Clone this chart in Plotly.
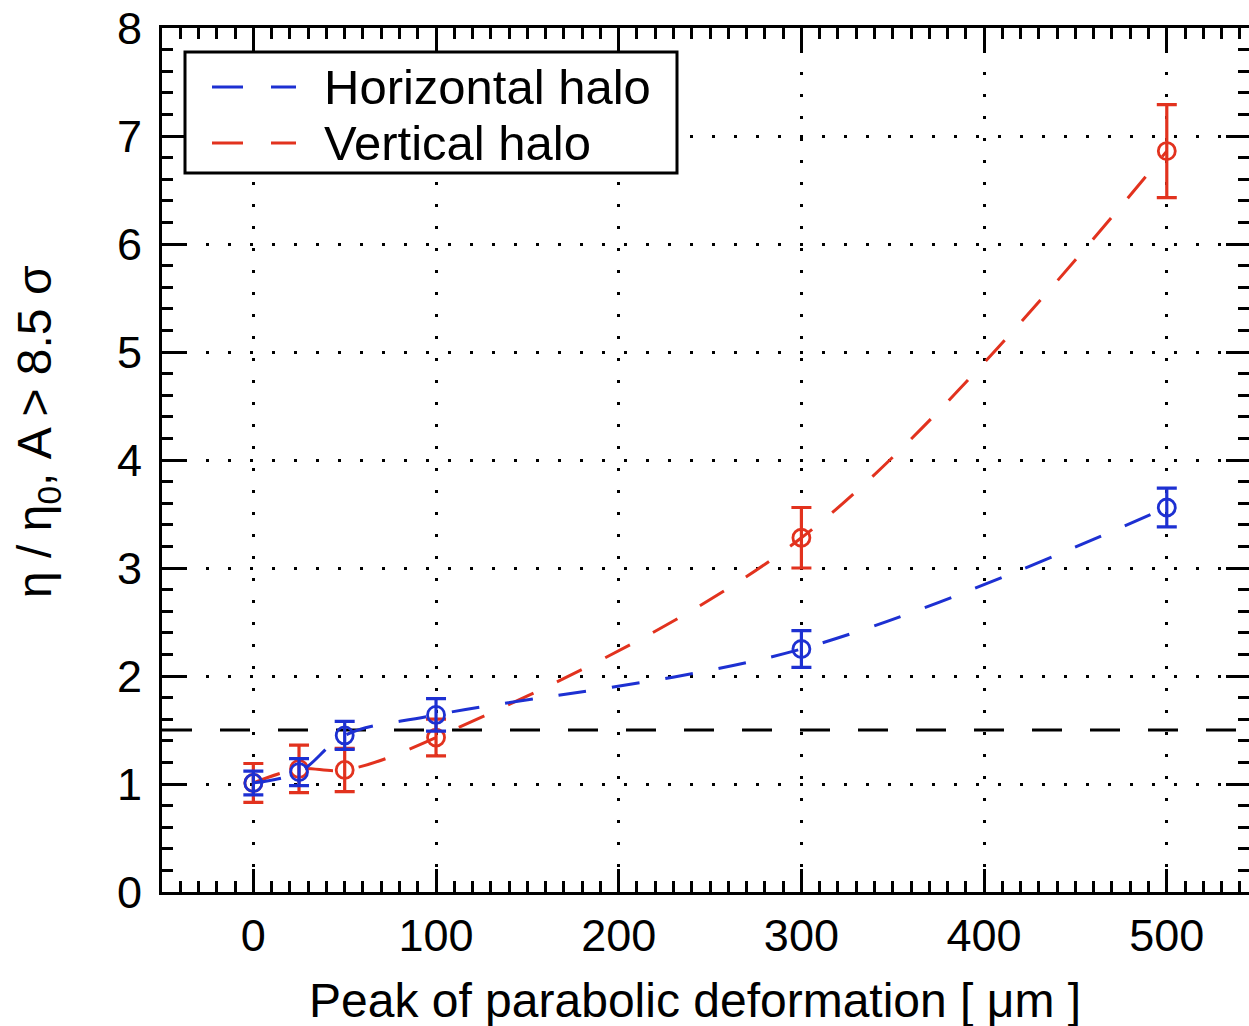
import plotly.graph_objects as go

# Peak of the parabolic deformation [um]
deformation = [0, 25, 50, 100, 300, 500]

# Relative efficiency eta/eta0 for amplitudes above 8.5 sigma
horizontal = [1.01, 1.11, 1.45, 1.64, 2.25, 3.56]
horizontal_err = [0.11, 0.125, 0.13, 0.15, 0.17, 0.18]

vertical = [1.01, 1.14, 1.13, 1.43, 3.28, 6.86]
vertical_err = [0.18, 0.22, 0.20, 0.17, 0.28, 0.43]

threshold = 1.5

x_ticks = [0, 100, 200, 300, 400, 500]
y_ticks = [0, 1, 2, 3, 4, 5, 6, 7, 8]

BLUE = "#1d30d2"
RED = "#e2321e"
FONT = "Liberation Sans, Arial, Helvetica, sans-serif"

W, H = 1249, 1026
ML, MR, MT, MB = 162, 0, 28, 134
PW, PH = W - ML - MR, H - MT - MB


def px(xp):
    return (xp - ML) / PW


def py(yp):
    return (H - MB - yp) / PH


def series(x, y, err, color, name):
    return go.Scatter(
        x=x, y=y, name=name, mode="lines+markers",
        line=dict(color=color, width=3, dash="28px,26px", shape="spline"),
        marker=dict(symbol="circle-open", size=17, color=color,
                    line=dict(width=2.8, color=color)),
        error_y=dict(type="data", array=err, visible=True,
                     color=color, thickness=3.2, width=10),
        showlegend=False,
    )


fig = go.Figure()
fig.add_trace(series(deformation, vertical, vertical_err, RED, "Vertical halo"))
fig.add_trace(series(deformation, horizontal, horizontal_err, BLUE, "Horizontal halo"))
# carrier for the right-hand tick axis
fig.add_trace(go.Scatter(x=[None], y=[None], yaxis="y2", showlegend=False,
                         hoverinfo="skip"))

axis_common = dict(
    showline=True, linewidth=3, linecolor="black",
    ticks="inside", tickwidth=3, ticklen=23, tickcolor="black",
    zeroline=False,
    showgrid=True, gridcolor="black", gridwidth=2.5, griddash="3px,19px",
    tickfont=dict(family=FONT, size=45, color="black"),
)

fig.update_layout(
    width=W, height=H,
    margin=dict(l=ML, r=MR, t=MT, b=MB),
    paper_bgcolor="white", plot_bgcolor="white",
    xaxis=dict(
        range=[-50, 545], tickvals=x_ticks, mirror="ticks",
        minor=dict(dtick=10, tick0=0, ticks="inside", ticklen=11,
                   tickwidth=3, tickcolor="black", showgrid=False),
        ticklabelstandoff=2,
        **axis_common,
    ),
    yaxis=dict(
        range=[0, 8], tickvals=y_ticks, mirror=False,
        minor=dict(dtick=0.2, tick0=0, ticks="inside", ticklen=11,
                   tickwidth=3, tickcolor="black", showgrid=False),
        ticklabelstandoff=8,
        **axis_common,
    ),
    yaxis2=dict(
        range=[0, 8], overlaying="y", side="right", tickvals=y_ticks,
        showline=False, showgrid=False, zeroline=False,
        ticks="inside", tickwidth=3, ticklen=23, tickcolor="black",
        showticklabels=False,
        minor=dict(dtick=0.2, tick0=0, ticks="inside", ticklen=11,
                   tickwidth=3, tickcolor="black", showgrid=False),
    ),
    showlegend=False,
)

# reference level
fig.add_shape(type="line", xref="paper", yref="y", x0=0, x1=1,
              y0=threshold, y1=threshold, layer="below",
              line=dict(color="black", width=3, dash="30px,28px"))

# legend box
fig.add_shape(type="rect", xref="paper", yref="paper",
              x0=px(185), x1=px(677), y0=py(173), y1=py(52),
              line=dict(color="black", width=3), fillcolor="white",
              layer="above")
for row_y, color, label in [(87, BLUE, "Horizontal halo"), (143, RED, "Vertical halo")]:
    fig.add_shape(type="line", xref="paper", yref="paper",
                  x0=px(212), x1=px(296), y0=py(row_y), y1=py(row_y),
                  line=dict(color=color, width=3, dash="31px,28px"),
                  layer="above")
    fig.add_annotation(text=label, xref="paper", yref="paper",
                       x=px(322), y=py(row_y), xanchor="left", yanchor="middle",
                       showarrow=False,
                       font=dict(family=FONT, size=49, color="black"))

# axis titles
fig.add_annotation(text="Peak of parabolic deformation [ \u03bcm ]",
                   xref="paper", yref="paper", x=px(695), y=py(1000),
                   xanchor="center", yanchor="middle", showarrow=False,
                   font=dict(family=FONT, size=48, color="black"))
fig.add_annotation(text="\u03b7 / \u03b7<sub>0</sub>, A > 8.5 \u03c3",
                   xref="paper", yref="paper", x=px(38), y=py(432),
                   xanchor="center", yanchor="middle", textangle=-90,
                   showarrow=False,
                   font=dict(family=FONT, size=48, color="black"))

fig.write_html("out.html")
